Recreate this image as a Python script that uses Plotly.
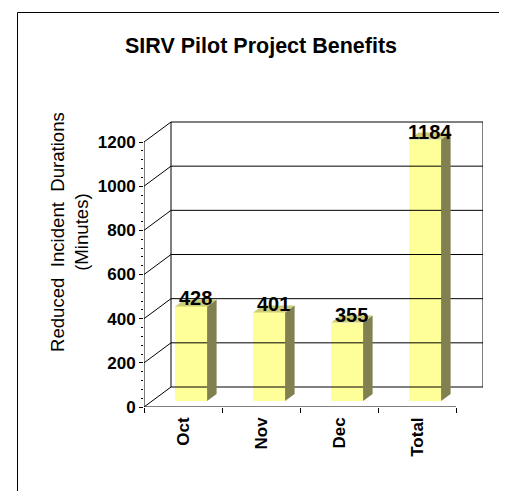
import plotly.graph_objects as go

# ---- data ----
categories = ["Oct", "Nov", "Dec", "Total"]
values = [428, 401, 355, 1184]
y_ticks = [0, 200, 400, 600, 800, 1000, 1200]
title_text = "SIRV Pilot Project Benefits"
y_title = "Reduced&nbsp; Incident&nbsp; Durations<br>(Minutes)"

# ---- geometry (pixels, in window coordinates; page body adds 8px offset) ----
OFF = 8
WIN_W, WIN_H = 507, 492
W, H = WIN_W - OFF, WIN_H - OFF
L_WIN, B_WIN = 144, 407          # plot-area left / bottom (front axes) in window px
R_WIN, T_WIN = 483, 118          # plot-area right / top in window px
PX_PER_CAT = 78.0
PX_PER_UNIT = 265.0 / 1200.0

L = L_WIN - OFF
B_PX = B_WIN - OFF
plot_w = R_WIN - L_WIN
plot_h = B_WIN - T_WIN
x_range = [-0.5, -0.5 + plot_w / PX_PER_CAT]
y_range = [0, plot_h / PX_PER_UNIT]

def dxp(px):  # pixel offset -> category units
    return px / PX_PER_CAT

def dyp(px):  # pixel offset -> value units
    return px / PX_PER_UNIT

WALL_DX, WALL_DY = dxp(27), dyp(20)
BAR_DX, BAR_DY = dxp(8.1), dyp(6)
DEPTH_DX, DEPTH_DY = dxp(9.5), dyp(7)
BAR_W = dxp(32)

FONT = "Arial, Liberation Sans, sans-serif"
FRONT = "#FFFF99"
SIDE = "#808050"
TOP = "#CCCC77"

fig = go.Figure()

def line(xs, ys, color="black", width=1):
    fig.add_trace(go.Scatter(x=xs, y=ys, mode="lines", cliponaxis=False,
                             line=dict(color=color, width=width),
                             hoverinfo="skip", showlegend=False))

n = len(categories)
x_left, x_right = -0.5, n - 0.5
ymax = max(y_ticks)

# back wall gridlines and side-wall diagonals
for t in y_ticks:
    line([x_left + WALL_DX, x_right + WALL_DX], [t + WALL_DY, t + WALL_DY])
    line([x_left, x_left + WALL_DX], [t, t + WALL_DY])
# back wall left/right edges
line([x_left + WALL_DX, x_left + WALL_DX], [WALL_DY, ymax + WALL_DY])
line([x_right + WALL_DX, x_right + WALL_DX], [WALL_DY, ymax + WALL_DY])
# front axes
line([x_left, x_left], [0, ymax])
line([x_left, x_right], [0, 0])

# bars: front faces
xs = [i + BAR_DX for i in range(n)]
fig.add_trace(go.Bar(x=xs, y=values, base=[BAR_DY] * n, width=BAR_W,
                     marker=dict(color=FRONT, line=dict(width=0)),
                     showlegend=False, hoverinfo="skip"))

for i, v in enumerate(values):
    xl = xs[i] - BAR_W / 2
    xr = xs[i] + BAR_W / 2
    b0 = BAR_DY
    b1 = BAR_DY + v
    # side face
    fig.add_trace(go.Scatter(
        x=[xr, xr + DEPTH_DX, xr + DEPTH_DX, xr, xr],
        y=[b0, b0 + DEPTH_DY, b1 + DEPTH_DY, b1, b0],
        mode="lines", fill="toself", fillcolor=SIDE, line=dict(width=0),
        showlegend=False, hoverinfo="skip"))
    # top face
    fig.add_trace(go.Scatter(
        x=[xl, xl + DEPTH_DX, xr + DEPTH_DX, xr, xl],
        y=[b1, b1 + DEPTH_DY, b1 + DEPTH_DY, b1, b1],
        mode="lines", fill="toself", fillcolor=TOP, line=dict(width=0),
        showlegend=False, hoverinfo="skip"))
    fig.add_annotation(x=xs[i] + DEPTH_DX / 2, y=b1, yanchor="bottom",
                       xanchor="center", yshift=-5, showarrow=False,
                       text=f"<b>{v}</b>",
                       font=dict(family=FONT, size=20, color="black"))

minor_vals = [v for v in range(0, ymax + 1, 40) if v % 200 != 0]

fig.update_layout(
    width=W, height=H,
    margin=dict(l=L, r=W - (R_WIN - OFF), t=T_WIN - OFF, b=H - B_PX, autoexpand=False),
    paper_bgcolor="white", plot_bgcolor="rgba(0,0,0,0)",
    bargap=0,
    xaxis=dict(range=x_range, showgrid=False, zeroline=False, showline=False,
               tickmode="array", tickvals=list(range(n)),
               ticktext=[f"<b>{c}</b>" for c in categories],
               tickangle=-90, ticks="", ticklabelstandoff=6,
               tickfont=dict(family=FONT, size=17, color="black"),
               minor=dict(tickmode="array", tickvals=[k - 0.5 for k in range(n + 1)],
                          ticks="outside", ticklen=5, tickcolor="black", tickwidth=1)),
    yaxis=dict(range=y_range, showgrid=False, zeroline=False, showline=False,
               tickmode="array", tickvals=y_ticks,
               ticktext=[f"<b>{t}</b>" for t in y_ticks],
               ticks="outside", ticklen=4, tickcolor="black", tickwidth=1,
               tickfont=dict(family=FONT, size=17, color="black"),
               minor=dict(tickmode="array", tickvals=minor_vals,
                          ticks="outside", ticklen=2, tickcolor="black", tickwidth=1)),
)

def px_x(px):  # window px -> paper
    return (px - L_WIN) / plot_w

def px_y(py):
    return (B_WIN - py) / plot_h

# title
fig.add_annotation(xref="paper", yref="paper", x=px_x(261), y=px_y(46),
                   xanchor="center", yanchor="middle", showarrow=False,
                   text=f"<b>{title_text}</b>",
                   font=dict(family=FONT, size=21.5, color="black"))
# y-axis title
fig.add_annotation(xref="paper", yref="paper", x=px_x(69), y=px_y(232),
                   xanchor="center", yanchor="middle", showarrow=False,
                   textangle=-90, text=y_title,
                   font=dict(family=FONT, size=18.6, color="black"))

# outer frame with shadow (kept inside the figure)
bottom_win = OFF + H - 1
fig.add_shape(type="rect", xref="paper", yref="paper",
              x0=px_x(502.5), x1=px_x(505.5), y0=px_y(15), y1=px_y(bottom_win),
              fillcolor="black", line=dict(width=0), layer="below")
for xa, xb, ya, yb in [(17.5, 502.5, 12.5, 12.5), (17.5, 17.5, 12.5, bottom_win),
                       (502.5, 502.5, 12.5, bottom_win)]:
    fig.add_shape(type="line", xref="paper", yref="paper",
                  x0=px_x(xa), x1=px_x(xb), y0=px_y(ya), y1=px_y(yb),
                  line=dict(color="black", width=1), layer="below")

fig.write_html("out.html",
               post_script="document.documentElement.style.overflow='hidden';")
